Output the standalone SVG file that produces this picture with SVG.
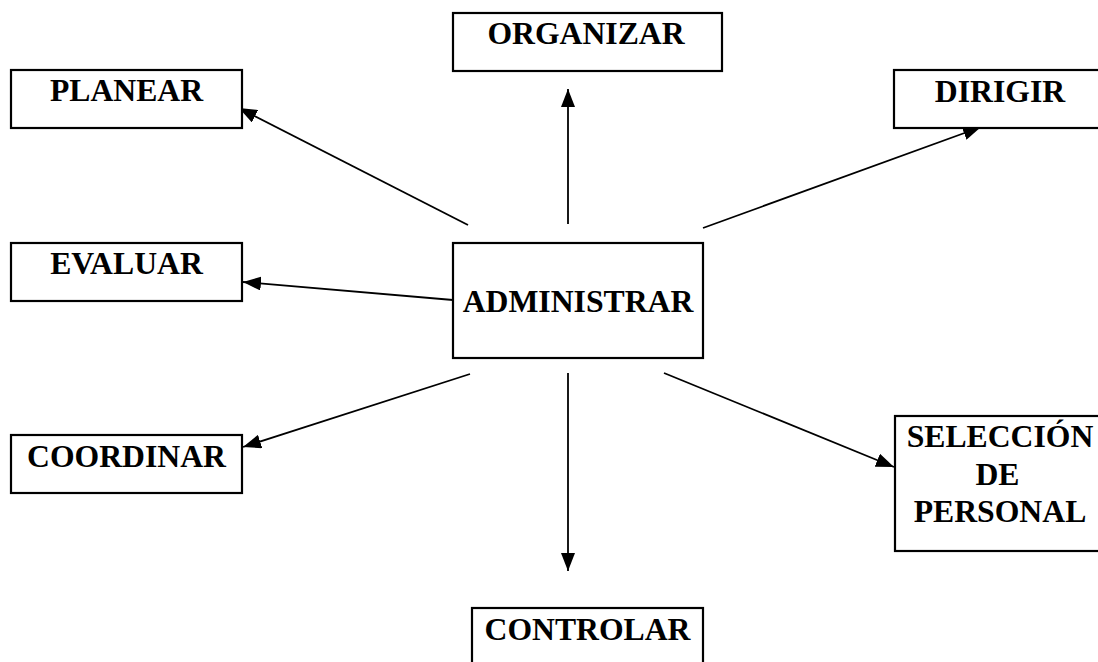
<svg xmlns="http://www.w3.org/2000/svg" width="1098" height="662" viewBox="0 0 1098 662">
<style>
.box{fill:#fff;stroke:#000;stroke-width:2.2}
.lbl{font-family:"Liberation Serif","Times New Roman",serif;font-weight:bold;font-size:31.7px;fill:#000;text-anchor:middle}
.con{stroke:#000;stroke-width:1.8;fill:none;marker-end:url(#ah)}
</style>
<defs>
<marker id="ah" markerUnits="userSpaceOnUse" markerWidth="18" markerHeight="14" refX="18" refY="7" orient="auto">
<path d="M0,0 L18,7 L0,14 z" fill="#000"/>
</marker>
</defs>
<rect width="1098" height="662" fill="#fff"/>
<g id="connectors">
<line class="con" x1="468" y1="225" x2="239" y2="108"/>
<line class="con" x1="568" y1="224" x2="568" y2="89"/>
<line class="con" x1="703" y1="228" x2="981" y2="127"/>
<line class="con" x1="453" y1="300" x2="243" y2="282"/>
<line class="con" x1="470" y1="374" x2="243" y2="447"/>
<line class="con" x1="664" y1="373" x2="894" y2="467"/>
<line class="con" x1="568" y1="373" x2="568" y2="571"/>
</g>
<g id="planear"><rect class="box" x="11" y="70" width="231" height="58"/><text class="lbl" x="126.5" y="101">PLANEAR</text></g>
<g id="organizar"><rect class="box" x="453" y="13" width="269" height="58"/><text class="lbl" x="586" y="44">ORGANIZAR</text></g>
<g id="dirigir"><rect class="box" x="894" y="70" width="210" height="58"/><text class="lbl" x="1000" y="102">DIRIGIR</text></g>
<g id="evaluar"><rect class="box" x="11" y="243" width="231" height="58"/><text class="lbl" x="126.5" y="274">EVALUAR</text></g>
<g id="administrar"><rect class="box" x="453" y="243" width="250" height="115"/><text class="lbl" x="578" y="311.5">ADMINISTRAR</text></g>
<g id="coordinar"><rect class="box" x="11" y="435" width="231" height="58"/><text class="lbl" x="126.5" y="467">COORDINAR</text></g>
<g id="seleccion"><rect class="box" x="895" y="416" width="210" height="135"/><text class="lbl" x="1000" y="447">SELECCIÓN</text><text class="lbl" x="997.5" y="485">DE</text><text class="lbl" x="1000" y="522">PERSONAL</text></g>
<g id="controlar"><rect class="box" x="472" y="608" width="231" height="70"/><text class="lbl" x="587.5" y="640">CONTROLAR</text></g>
</svg>
